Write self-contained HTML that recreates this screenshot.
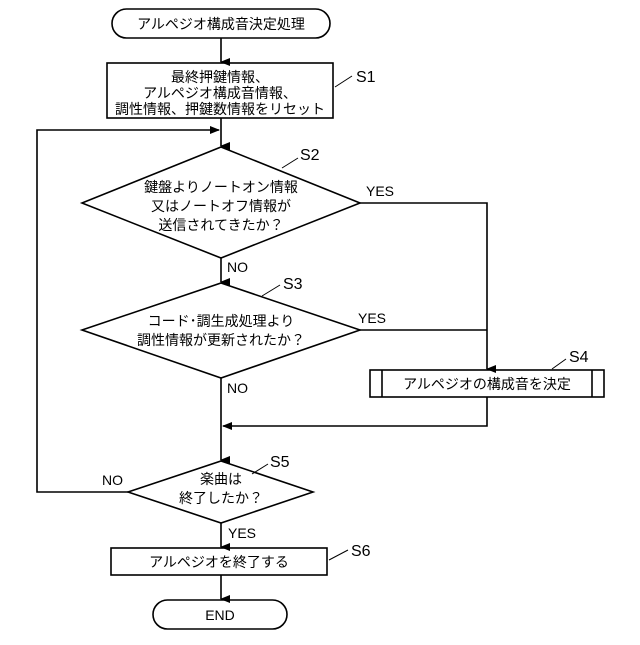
<!DOCTYPE html>
<html><head><meta charset="utf-8"><style>
html,body{margin:0;padding:0;background:#fff;}
svg text{font-family:"Liberation Sans","Noto Sans CJK JP",sans-serif;fill:#000;}
</style></head><body>
<svg width="640" height="640" viewBox="0 0 640 640" xmlns="http://www.w3.org/2000/svg">
<defs><marker id="a" markerWidth="8" markerHeight="10" refX="4" refY="9" orient="auto" markerUnits="userSpaceOnUse"><path d="M0,0 L8,0 L4,10 Z" fill="#000"/></marker>
<marker id="r" markerWidth="10" markerHeight="8" refX="9" refY="4" orient="0" markerUnits="userSpaceOnUse"><path d="M0,0 L10,4 L0,8 Z" fill="#000"/></marker>
<marker id="l" markerWidth="10" markerHeight="8" refX="1" refY="4" orient="0" markerUnits="userSpaceOnUse"><path d="M10,0 L0,4 L10,8 Z" fill="#000"/></marker></defs>
<g stroke="#000" stroke-width="1.6" fill="none">
<rect x="112" y="9" width="218" height="29" rx="14.5"/>
<line x1="221" y1="38" x2="221" y2="62" marker-end="url(#a)"/>
<rect x="107" y="63" width="226" height="55"/>
<line x1="221" y1="118" x2="221" y2="146" marker-end="url(#a)"/>
<polyline points="128,492 37,492 37,130 219,130" marker-end="url(#r)"/>
<polygon points="221,147 360,203 221,258 82,203"/>
<polyline points="360,203 487,203 487,369" marker-end="url(#a)"/>
<line x1="221" y1="258" x2="221" y2="282" marker-end="url(#a)"/>
<polygon points="221,283 360,330 221,378 82,330"/>
<line x1="360" y1="330" x2="487" y2="330"/>
<rect x="370" y="370" width="234" height="27"/>
<line x1="382" y1="370" x2="382" y2="397"/>
<line x1="592" y1="370" x2="592" y2="397"/>
<polyline points="487,397 487,426 223,426" marker-end="url(#l)"/>
<line x1="221" y1="378" x2="221" y2="460" marker-end="url(#a)"/>
<polygon points="221,461 313,492 221,523 128,492"/>
<line x1="221" y1="523" x2="221" y2="547" marker-end="url(#a)"/>
<rect x="111" y="548" width="216" height="27"/>
<line x1="221" y1="575" x2="221" y2="599" marker-end="url(#a)"/>
<rect x="153" y="600" width="134" height="29" rx="14.5"/>
<g stroke-width="1"><line x1="335" y1="87" x2="352" y2="76"/><line x1="282" y1="168" x2="298" y2="158"/><line x1="262" y1="296" x2="280" y2="285"/><line x1="552" y1="369" x2="566" y2="359"/><line x1="252" y1="474" x2="268" y2="464"/><line x1="329" y1="560" x2="348" y2="550"/></g>
</g>
<g font-size="14" text-anchor="middle">
<text x="221" y="29">アルペジオ構成音決定処理</text>
<text x="220" y="82">最終押鍵情報、</text>
<text x="220" y="98">アルペジオ構成音情報、</text>
<text x="220" y="114">調性情報、押鍵数情報をリセット</text>
<text x="221" y="192">鍵盤よりノートオン情報</text>
<text x="221" y="211">又はノートオフ情報が</text>
<text x="221" y="230">送信されてきたか？</text>
<text x="221" y="326">コード･調生成処理より</text>
<text x="221" y="345">調性情報が更新されたか？</text>
<text x="487" y="389">アルペジオの構成音を決定</text>
<text x="221" y="484">楽曲は</text>
<text x="221" y="503">終了したか？</text>
<text x="219" y="567">アルペジオを終了する</text>
<text x="220" y="620">END</text>
</g>
<g font-size="14">
<text x="356" y="82" font-size="16">S1</text>
<text x="300" y="160" font-size="16">S2</text>
<text x="283" y="289" font-size="16">S3</text>
<text x="569" y="362" font-size="16">S4</text>
<text x="270" y="467" font-size="16">S5</text>
<text x="351" y="556" font-size="16">S6</text>
<text x="366" y="196">YES</text>
<text x="358" y="323">YES</text>
<text x="227" y="272">NO</text>
<text x="227" y="393">NO</text>
<text x="102" y="485">NO</text>
<text x="228" y="538">YES</text>
</g>
</svg>
</body></html>
